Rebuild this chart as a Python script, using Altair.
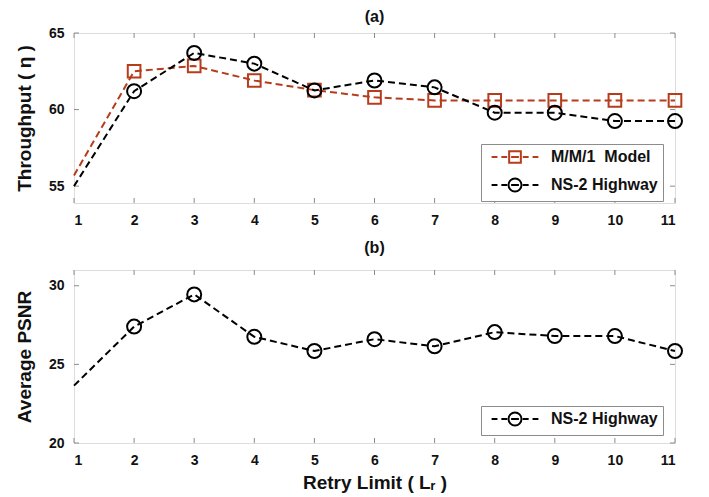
import altair as alt
import pandas as pd

# Retry limit values on the shared x axis
retry = [1, 2, 3, 4, 5, 6, 7, 8, 9, 10, 11]
x_ticks = [1, 2, 3, 4, 5, 6, 7, 8, 9, 10, 11]

# (a) throughput
mm1_throughput = [55.7, 62.5, 62.85, 61.9, 61.27, 60.8, 60.6, 60.6, 60.6, 60.6, 60.6]
ns2_throughput = [55.0, 61.2, 63.7, 63.0, 61.25, 61.9, 61.45, 59.8, 59.8, 59.25, 59.25]
thr_ticks = [55, 60, 65]

# (b) average PSNR
ns2_psnr = [23.65, 27.4, 29.45, 26.75, 25.85, 26.6, 26.15, 27.05, 26.8, 26.8, 25.85]
psnr_ticks = [20, 25, 30]

series_names = ["M/M/1\u00a0\u00a0Model", "NS-2 Highway"]
RED = "#b63c1c"
BLACK = "#000000"
FRAME = "#8c8c8c"
FONT = "Liberation Sans"

W = 601
H_TOP = 170
H_BOT = 173

# legend glyphs: dashed line with the marker in the middle
dashes = "M-3.6,0H-2.7M-2.1,0H-1.2M-0.6,0H0.6M1.2,0H2.1M2.7,0H3.6"
square_glyph = dashes + "M-0.9,-0.9H0.9V0.9H-0.9Z"
circle_glyph = dashes + "M1,0A1,1,0,1,1,-1,0A1,1,0,1,1,1,0"

top_df = pd.DataFrame({
    "retry": retry * 2,
    "value": mm1_throughput + ns2_throughput,
    "series": [series_names[0]] * len(retry) + [series_names[1]] * len(retry),
})
bot_df = pd.DataFrame({
    "retry": retry,
    "value": ns2_psnr,
    "series": [series_names[1]] * len(retry),
})


def x_enc(show_title):
    return alt.X(
        "retry:Q",
        scale=alt.Scale(domain=[1, 11], nice=False, zero=False),
        axis=alt.Axis(
            values=x_ticks, format="d", grid=False, domain=False, ticks=False,
            labelPadding=10, labelFontSize=14, labelFontWeight="bold",
            labelFont=FONT, labelColor="#111",
            title="Retry Limit ( Lᵣ )" if show_title else None,
            titleFontSize=19, titleFont=FONT, titleFontWeight="bold",
            titlePadding=6, titleColor="#111",
        ),
    )


def y_enc(domain, ticks, title):
    return alt.Y(
        "value:Q",
        scale=alt.Scale(domain=domain, nice=False, zero=False),
        axis=alt.Axis(
            values=ticks, format="d", grid=False, domain=False, ticks=False,
            labelPadding=10, labelFontSize=14, labelFontWeight="bold",
            labelFont=FONT, labelColor="#111",
            title=title, titleFontSize=19, titleFont=FONT,
            titleFontWeight="bold", titlePadding=14, titleColor="#111",
        ),
    )


def frame_ticks(domain, yticks, h):
    xt = pd.DataFrame({"retry": x_ticks})
    yt = pd.DataFrame({"value": yticks})
    xs = alt.Scale(domain=[1, 11], nice=False, zero=False)
    ys = alt.Scale(domain=domain, nice=False, zero=False)
    top_t = alt.Chart(xt).mark_rule(color=FRAME, strokeWidth=1).encode(
        x=alt.X("retry:Q", scale=xs), y=alt.value(0), y2=alt.value(5))
    bot_t = alt.Chart(xt).mark_rule(color=FRAME, strokeWidth=1).encode(
        x=alt.X("retry:Q", scale=xs), y=alt.value(h - 5), y2=alt.value(h))
    left_t = alt.Chart(yt).mark_rule(color=FRAME, strokeWidth=1).encode(
        y=alt.Y("value:Q", scale=ys), x=alt.value(0), x2=alt.value(5))
    right_t = alt.Chart(yt).mark_rule(color=FRAME, strokeWidth=1).encode(
        y=alt.Y("value:Q", scale=ys), x=alt.value(W - 5), x2=alt.value(W))
    return [top_t, bot_t, left_t, right_t]


def panel(df, domain, yticks, ytitle, names, colors, shapes, sizes, glyphs,
          h, title, title_offset, legend_y, show_xtitle):
    base = alt.Chart(df)
    layers = frame_ticks(domain, yticks, h)
    for name, col, shp, sz in zip(names, colors, shapes, sizes):
        sub = base.transform_filter(alt.datum.series == name)
        layers.append(
            sub.mark_line(color=col, strokeDash=[7, 4], strokeWidth=2).encode(
                x=x_enc(show_xtitle), y=y_enc(domain, yticks, ytitle))
        )
        layers.append(
            sub.transform_filter(alt.datum.retry >= 2)
            .mark_point(shape=shp, size=sz, filled=False, color=col,
                        strokeWidth=2, opacity=1)
            .encode(x="retry:Q", y="value:Q")
        )
    leg = alt.Legend(
        title=None, orient="none", legendX=407, legendY=legend_y,
        symbolSize=169, symbolStrokeWidth=2, symbolOpacity=1,
        symbolFillColor="transparent", symbolOffset=21,
        labelOffset=28, labelFontSize=16, labelFont=FONT,
        labelFontWeight="bold", labelColor="#111",
        padding=5, rowPadding=7, strokeColor=FRAME,
        fillColor="white", cornerRadius=0,
    )
    # legend carrier layer, its marks are not drawn
    layers.append(
        base.mark_point(filled=False, strokeWidth=2, opacity=1).encode(
            x="retry:Q", y="value:Q",
            opacity=alt.value(0),
            color=alt.Color("series:N", scale=alt.Scale(domain=names, range=colors), legend=leg),
            shape=alt.Shape("series:N", scale=alt.Scale(domain=names, range=glyphs), legend=leg),
        )
    )
    return alt.layer(*layers).properties(
        width=W, height=h,
        title=alt.Title(title, fontSize=16, font=FONT, fontWeight="bold",
                        color="#111", offset=title_offset, anchor="middle"),
    )


top = panel(top_df, [53.9, 65], thr_ticks, "Throughput ( η )",
            series_names, [RED, BLACK], ["square", "circle"], [160, 196],
            [square_glyph, circle_glyph], H_TOP, "(a)", 1, 111, False)
bottom = panel(bot_df, [20, 31], psnr_ticks, "Average PSNR",
               [series_names[1]], [BLACK], ["circle"], [196],
               [circle_glyph], H_BOT, "(b)", 14, 136, True)

chart = (
    alt.vconcat(top, bottom, spacing=11)
    .resolve_scale(color="independent", shape="independent")
    .resolve_legend(color="independent", shape="independent")
    .properties(padding={"left": 14, "top": 8, "right": 5, "bottom": 5})
    .configure_view(stroke=FRAME, strokeWidth=1)
    .configure(background="white")
)

chart.save("out.html", embed_options={"renderer": "svg", "actions": False})
